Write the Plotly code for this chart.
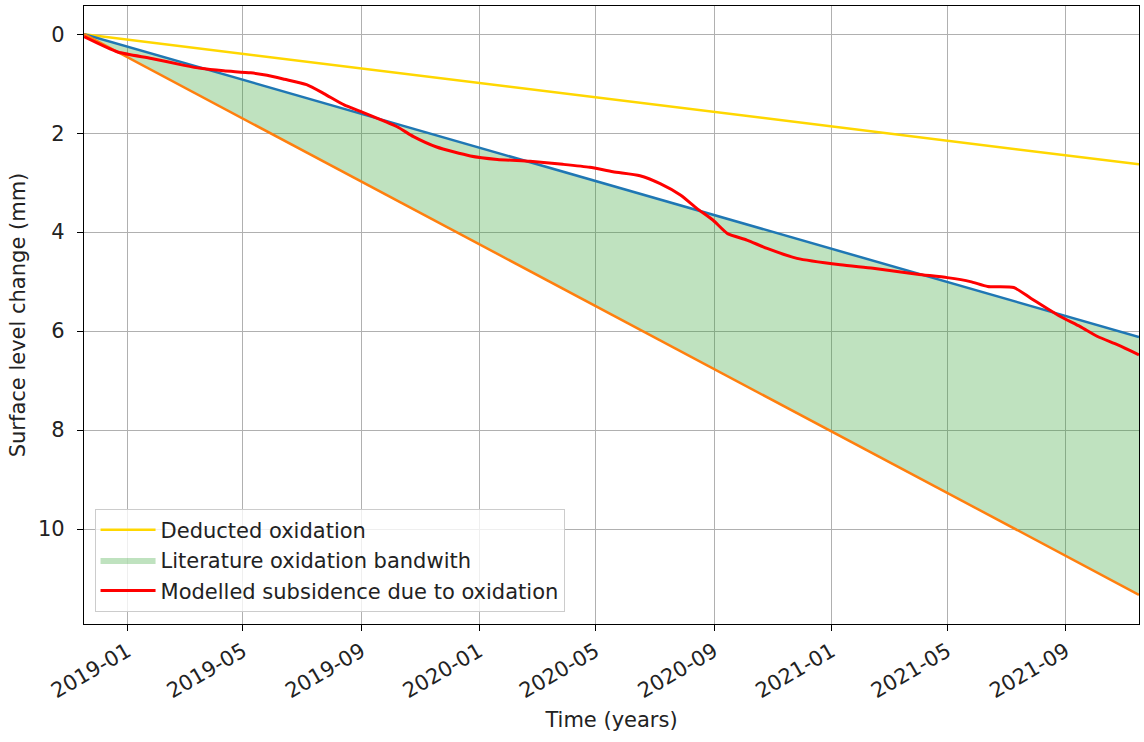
import plotly.graph_objects as go

# --- data ---
start_end = ["2018-11-17", "2021-11-16"]
deducted = [0.0, 2.63]          # yellow
lit_low = [0.0, 6.12]           # blue (upper edge of band)
lit_high = [0.0, 11.33]         # orange (lower edge of band)

model_dates = [
    "2018-11-17", "2018-12-22", "2019-01-26", "2019-03-01", "2019-03-18",
    "2019-04-11", "2019-05-09", "2019-05-26", "2019-06-13", "2019-07-06",
    "2019-07-24", "2019-08-14", "2019-08-31", "2019-10-08", "2019-10-25",
    "2019-11-18", "2019-12-23", "2020-01-20", "2020-02-23", "2020-03-28",
    "2020-04-25", "2020-05-19", "2020-06-16", "2020-07-07", "2020-07-28",
    "2020-08-14", "2020-08-31", "2020-09-15", "2020-10-05", "2020-10-26",
    "2020-11-26", "2021-01-10", "2021-02-13", "2021-03-31", "2021-05-01",
    "2021-05-25", "2021-06-12", "2021-07-09", "2021-07-27", "2021-08-24",
    "2021-09-16", "2021-10-04", "2021-10-25", "2021-11-16",
]
model_vals = [
    0.05, 0.36, 0.49, 0.63, 0.69,
    0.74, 0.78, 0.83, 0.91, 1.02,
    1.20, 1.43, 1.56, 1.87, 2.07,
    2.28, 2.46, 2.53, 2.57, 2.63,
    2.69, 2.78, 2.86, 3.02, 3.25,
    3.52, 3.76, 4.03, 4.16, 4.33,
    4.53, 4.66, 4.73, 4.85, 4.92,
    5.00, 5.10, 5.12, 5.34, 5.68,
    5.91, 6.11, 6.28, 6.48,
]

x_tickvals = ["2019-01-01", "2019-05-01", "2019-09-01", "2020-01-01", "2020-05-01",
              "2020-09-01", "2021-01-01", "2021-05-01", "2021-09-01"]
x_ticktext = ["2019-01", "2019-05", "2019-09", "2020-01", "2020-05",
              "2020-09", "2021-01", "2021-05", "2021-09"]
y_tickvals = [0, 2, 4, 6, 8, 10]

FONT = "DejaVu Sans"
FS = 21

fig = go.Figure()

fig.add_trace(go.Scatter(
    x=start_end, y=deducted, mode="lines", name="Deducted oxidation",
    line=dict(color="#ffd700", width=2.5), legendrank=1, legendgroup="a",
))
fig.add_trace(go.Scatter(
    x=start_end, y=lit_high, mode="lines", line=dict(width=0, color="#ff7f0e"),
    showlegend=False, hoverinfo="skip", legendgroup="b",
))
fig.add_trace(go.Scatter(
    x=start_end, y=lit_low, mode="lines", name="Literature oxidation bandwith",
    fill="tonexty", fillcolor="rgba(44,160,44,0.3)",
    line=dict(width=0, color="rgba(44,160,44,0.3)"), legendrank=2, legendgroup="b",
))
fig.add_trace(go.Scatter(
    x=start_end, y=lit_low, mode="lines", line=dict(color="#1f77b4", width=2.5),
    showlegend=False,
))
fig.add_trace(go.Scatter(
    x=start_end, y=lit_high, mode="lines", line=dict(color="#ff7f0e", width=2.5),
    showlegend=False,
))
fig.add_trace(go.Scatter(
    x=model_dates, y=model_vals, mode="lines",
    name="Modelled subsidence due to oxidation",
    line=dict(color="#ff0000", width=3, shape="spline", smoothing=0.6),
    legendrank=3, legendgroup="c",
))

axis_common = dict(
    showline=True, mirror=True, linecolor="#000000", linewidth=1.3,
    showgrid=True, gridcolor="#b0b0b0", gridwidth=1,
    ticks="outside", ticklen=6, tickcolor="#000000", tickwidth=1.3,
    zeroline=False, tickfont=dict(family=FONT, size=FS, color="#222222"),
)

fig.update_xaxes(
    range=start_end, tickmode="array", tickvals=x_tickvals, ticktext=x_ticktext,
    tickangle=-30,
    title=dict(text="Time (years)", font=dict(family=FONT, size=FS, color="#222222"), standoff=10),
    **axis_common,
)
fig.update_yaxes(
    range=[11.92, -0.57], tickmode="array", tickvals=y_tickvals,
    ticktext=[str(v) for v in y_tickvals], ticklabelstandoff=8,
    title=dict(text="Surface level change (mm)", font=dict(family=FONT, size=FS, color="#222222"), standoff=6),
    **axis_common,
)

fig.update_layout(
    width=1144, height=742,
    margin=dict(l=84, r=5, t=6, b=118),
    paper_bgcolor="white", plot_bgcolor="white",
    font=dict(family=FONT, size=FS, color="#222222"),
    showlegend=True,
    legend=dict(
        x=0.01, y=0.02, xanchor="left", yanchor="bottom",
        bgcolor="rgba(255,255,255,0.8)", bordercolor="#cccccc", borderwidth=1,
        font=dict(family=FONT, size=FS, color="#222222"),
        tracegroupgap=0, traceorder="grouped", itemwidth=55,
    ),
)

fig.write_html("out.html")
